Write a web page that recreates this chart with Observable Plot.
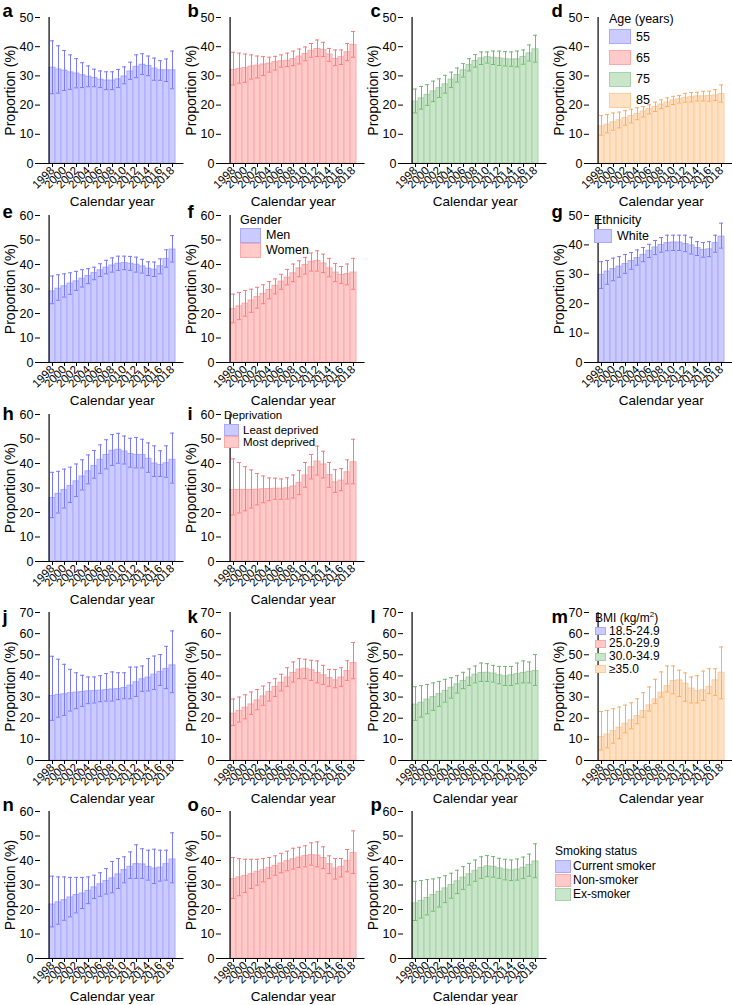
<!DOCTYPE html>
<html><head><meta charset="utf-8">
<script src="https://cdn.jsdelivr.net/npm/d3@7"></script>
<script src="https://cdn.jsdelivr.net/npm/@observablehq/plot@0.6"></script>
<style>
body{margin:0;background:#fff;}
#chart{position:relative;width:732px;height:1005px;overflow:hidden;font-family:"Liberation Sans",Arial,Helvetica,sans-serif;background:#fff;}
.panel{position:absolute;}
.lg{position:absolute;white-space:nowrap;color:#000;font-size:12px;}
.sw{position:absolute;box-sizing:border-box;border:1px solid;}
</style></head>
<body><div id="chart"></div>
<script>
const FONT = '"Liberation Sans", Arial, Helvetica, sans-serif';
const years = [1998,1999,2000,2001,2002,2003,2004,2005,2006,2007,2008,2009,2010,2011,2012,2013,2014,2015,2016,2017,2018];
const evenYears = [1998,2000,2002,2004,2006,2008,2010,2012,2014,2016,2018];
const ticks50 = [0,10,20,30,40,50];
const ticks60 = [0,10,20,30,40,50,60];
const ticks70 = [0,10,20,30,40,50,60,70];

// a: Age 55
const aMean = [32.8,32.2,31.8,31.2,30.8,30.2,29.7,29.3,28.7,28.4,28.4,28.8,29.8,31.5,33.1,33.8,33.4,32.5,31.9,31.9,31.9];
const aHigh = [42.0,40.3,38.7,37.2,35.9,34.5,33.4,32.3,31.7,31.4,31.4,32.2,33.1,34.7,37.2,37.6,36.8,36.1,35.2,35.8,38.5];
const aLow  = [23.9,24.1,25.0,25.4,25.9,26.0,26.3,26.3,26.0,25.3,25.3,26.0,27.3,28.8,29.4,30.5,30.1,28.5,28.5,28.1,25.6];
// b: Age 65
const bMean = [32.0,32.4,32.7,33.2,33.5,33.9,34.2,34.7,35.0,35.2,35.8,36.6,37.5,38.6,39.2,38.9,37.3,35.8,36.4,38.1,40.6];
const bHigh = [38.1,37.8,37.5,37.2,36.8,36.6,36.4,36.7,37.2,37.8,38.5,39.2,39.9,41.1,42.3,41.5,39.4,38.9,38.9,41.1,45.2];
const bLow  = [26.9,27.5,27.8,28.9,29.3,30.1,31.3,32.0,33.0,33.2,33.5,34.1,35.2,36.4,36.6,36.6,35.0,33.5,33.9,35.2,36.4];
// c: Age 75
const cMean = [21.2,22.3,23.5,24.7,25.8,27.1,28.7,30.3,31.9,33.7,35.1,36.0,36.4,36.2,36.0,35.7,35.6,35.7,36.5,37.7,39.1];
const cHigh = [25.5,26.4,27.0,28.2,29.0,30.2,31.3,32.7,34.2,35.9,37.3,38.2,38.2,38.5,38.5,38.3,38.2,38.5,38.9,40.6,43.9];
const cLow  = [17.3,18.6,19.9,21.2,22.6,24.1,26.0,27.9,29.6,31.7,33.0,33.9,34.4,33.9,33.6,33.4,33.3,33.1,34.0,35.1,34.7];
// d: Age 85
const dMean = [12.7,13.3,14.1,14.8,15.6,16.3,17.0,17.8,18.6,19.4,20.2,20.9,21.6,22.0,22.5,22.7,23.0,23.0,23.1,23.3,23.8];
const dHigh = [16.4,16.8,17.3,17.6,18.1,18.6,19.1,19.5,20.1,21.0,21.8,22.5,23.0,23.3,24.0,24.3,24.4,24.7,24.8,25.3,26.9];
const dLow  = [9.7,10.5,11.4,12.2,13.1,13.9,15.0,15.9,17.0,17.8,18.8,19.5,20.2,20.7,21.0,21.1,21.4,21.4,21.3,21.6,21.0];
// e: Men
const eMean = [29.0,30.1,31.1,32.2,33.1,34.2,35.3,36.5,37.6,38.7,39.6,40.3,40.6,40.3,39.9,39.2,38.3,37.9,39.3,42.3,46.1];
const eHigh = [35.3,35.8,36.2,36.6,37.2,37.9,38.3,38.9,40.3,41.7,42.7,43.4,43.4,43.3,43.0,42.1,41.1,41.0,42.3,46.0,51.8];
const eLow  = [24.0,25.4,26.7,27.8,29.4,30.8,32.2,33.8,35.1,36.2,36.9,37.6,37.9,37.6,36.9,36.5,35.5,35.1,36.2,38.9,41.0];
// f: Women
const fMean = [21.8,22.9,24.0,25.3,26.7,28.0,29.6,31.3,33.0,34.6,36.4,38.4,39.8,41.1,41.4,40.4,38.4,36.7,35.7,36.1,36.7];
const fHigh = [27.9,28.6,29.4,29.9,30.7,31.7,33.0,34.1,36.0,38.0,40.2,41.5,42.9,44.7,45.6,44.2,42.5,40.4,39.2,40.2,42.5];
const fLow  = [16.2,17.5,18.9,20.5,22.2,24.0,26.0,28.0,29.9,31.7,33.0,35.0,36.1,37.3,37.3,36.7,35.0,33.0,32.3,31.7,29.9];
// g: White
const gMean = [29.8,30.9,31.8,32.6,33.5,34.5,35.5,36.6,38.0,39.1,40.0,40.6,40.8,40.8,40.3,39.8,38.9,38.3,38.5,40.6,42.8];
const gHigh = [34.3,34.7,35.5,36.0,36.7,37.4,38.3,39.1,40.2,41.5,42.5,43.3,43.3,43.3,43.3,42.6,41.1,40.8,41.1,43.3,47.4];
const gLow  = [25.2,26.6,27.8,29.0,30.3,31.7,33.1,34.3,35.7,36.7,37.5,38.0,38.1,38.1,37.7,36.9,36.4,35.8,36.0,37.5,38.9];
// h: Least deprived
const hMean = [25.9,27.6,29.2,30.8,32.7,34.7,36.8,39.0,41.5,43.5,45.2,45.6,44.9,43.9,43.5,43.5,41.9,40.0,39.4,40.1,41.5];
const hHigh = [36.4,36.8,37.7,38.5,39.8,41.5,43.5,45.3,47.6,49.7,51.8,52.3,51.2,50.3,50.6,49.9,48.4,47.2,45.2,47.2,52.4];
const hLow  = [17.9,19.8,21.8,24.1,26.5,29.2,31.7,34.0,36.0,37.8,39.2,40.1,39.8,38.5,38.2,38.2,36.4,34.7,34.7,34.4,32.0];
// i: Most deprived
const iMean = [29.2,29.2,29.2,29.2,29.3,29.5,29.6,29.7,29.7,29.9,30.6,32.1,35.1,38.5,40.8,39.6,35.3,32.3,33.0,36.4,40.5];
const iHigh = [41.9,40.4,38.7,37.4,35.9,34.9,34.1,34.0,33.7,34.2,35.3,37.2,40.4,43.7,47.1,45.0,40.4,37.5,37.9,41.5,49.9];
const iLow  = [19.0,19.8,20.7,21.8,23.1,24.0,24.8,25.4,25.4,25.5,25.9,27.3,30.3,33.7,35.3,34.1,30.3,28.2,28.9,31.7,31.7];
// j: BMI 18.5-24.9
const jMean = [30.5,31.0,31.3,31.8,32.1,32.4,32.7,32.9,33.0,33.3,33.6,33.8,34.3,35.4,37.0,38.4,39.2,40.6,41.9,43.3,45.0];
const jHigh = [49.3,47.9,45.5,43.1,41.5,40.3,39.5,39.5,40.1,41.1,41.9,41.5,41.5,44.2,44.2,44.7,48.2,49.4,50.1,54.0,61.3];
const jLow  = [19.0,20.5,21.3,23.4,24.5,25.6,26.9,27.2,27.8,28.1,28.1,28.8,29.2,29.2,30.3,32.7,32.9,33.6,35.5,34.0,32.1];
// k: BMI 25.0-29.9
const kMean = [22.1,23.4,25.0,26.5,28.4,30.3,32.4,34.8,36.8,39.2,41.4,43.0,43.4,42.7,41.4,40.3,39.0,37.9,39.2,42.3,46.1];
const kHigh = [29.1,30.0,31.1,32.4,33.6,35.2,36.8,38.7,40.8,43.9,46.6,48.2,47.9,47.4,47.1,45.0,43.1,43.0,43.9,47.2,55.8];
const kLow  = [16.6,18.2,19.7,21.8,24.0,26.1,28.1,30.3,32.9,35.1,37.1,38.7,38.7,37.9,36.7,36.0,35.1,34.4,35.1,37.9,38.7];
// l: BMI 30.0-34.9
const lMean = [26.4,27.3,28.8,30.0,31.4,32.9,34.4,36.0,37.6,39.2,40.6,41.4,41.5,41.1,40.3,39.8,40.3,40.8,41.4,41.9,42.3];
const lHigh = [34.9,35.4,36.0,36.7,37.4,38.4,39.2,40.1,41.7,43.3,44.7,46.1,45.8,45.0,44.5,44.5,44.5,46.1,47.1,46.6,50.1];
const lLow  = [19.0,20.5,22.1,23.7,25.6,27.6,29.5,31.9,34.0,35.5,36.7,37.4,37.4,37.1,36.3,35.5,35.5,36.3,36.7,36.7,35.5];
// m: BMI >=35.0
const mMean = [11.1,12.3,13.9,15.5,17.4,19.0,21.0,23.4,26.1,28.9,32.1,35.2,37.6,37.9,36.3,34.0,32.9,33.2,34.8,37.9,41.5];
const mHigh = [23.2,23.7,24.5,25.3,26.2,27.3,29.2,32.1,34.8,38.4,41.9,44.7,44.7,42.7,41.4,39.5,40.1,42.3,43.4,43.4,53.7];
const mLow  = [5.0,6.0,8.2,10.3,13.1,15.0,17.4,20.5,23.4,26.9,30.0,32.4,31.6,30.3,28.0,27.2,27.2,28.4,31.6,30.8,29.2];
// n: Current smoker
const nMean = [22.0,22.9,23.8,24.9,25.9,26.5,27.6,29.0,30.3,31.6,32.7,34.3,36.1,37.4,38.5,38.4,37.4,36.7,37.1,38.5,40.4];
const nHigh = [33.6,33.3,33.3,33.1,33.1,33.1,33.3,34.0,35.0,36.7,39.6,40.8,41.5,43.5,46.4,44.8,44.2,44.6,44.2,44.2,51.3];
const nLow  = [12.9,14.0,15.6,17.0,18.6,20.4,22.4,24.5,25.4,26.3,26.8,28.6,30.9,32.7,32.7,32.7,32.0,30.6,31.6,32.0,30.9];
// o: Non-smoker
const oMean = [32.4,33.1,33.7,34.4,35.4,36.1,37.0,37.8,38.8,39.7,40.5,41.2,41.8,42.2,42.0,41.0,38.5,36.7,37.4,39.9,43.1];
const oHigh = [41.2,40.8,40.5,40.5,40.5,40.8,41.2,41.9,42.9,43.8,45.0,45.4,46.0,47.2,47.6,45.6,41.9,40.8,40.8,44.5,52.1];
const oLow  = [24.5,25.6,26.9,28.6,29.9,31.3,32.7,34.0,35.0,35.8,36.5,37.1,37.4,38.1,37.4,36.7,34.7,32.4,33.3,35.4,34.7];
// p: Ex-smoker
const pMean = [22.5,23.5,24.7,25.9,27.2,28.6,30.0,31.5,33.0,34.4,35.8,37.0,37.6,37.4,36.8,36.3,36.0,36.3,37.0,38.2,39.6];
const pHigh = [31.5,31.8,32.2,32.5,33.0,33.8,34.8,36.0,37.5,38.8,40.2,41.5,42.0,41.6,40.9,40.5,40.2,40.6,41.4,42.6,46.8];
const pLow  = [15.5,16.5,17.8,19.3,21.0,22.8,24.6,26.5,28.2,30.0,31.5,32.7,33.4,33.2,32.7,32.1,31.8,32.0,32.6,33.6,33.0];

const palettes = {
  blue:   {fill: "#cbcbff", stroke: "#a9a9ff", err: "#7b7bff"},
  red:    {fill: "#ffcaca", stroke: "#ffa8a8", err: "#ff7a7a"},
  green:  {fill: "#cae6ca", stroke: "#a4d3a4", err: "#6ebd6e"},
  orange: {fill: "#ffe1c4", stroke: "#ffcc9c", err: "#ffac5c"}
};

const cols = [40, 221, 403, 589];
const rowTop = [17, 215, 414, 612, 811];
const rowBottom = [163, 362, 561, 760, 958];
const letterX = [2, 187, 370, 551];
const letterBase = [16, 217, 419, 622, 810];

const panels = [
  {letter: "a", row: 0, col: 0, color: "blue",   ticks: ticks50, mean: aMean, high: aHigh, low: aLow},
  {letter: "b", row: 0, col: 1, color: "red",    ticks: ticks50, mean: bMean, high: bHigh, low: bLow},
  {letter: "c", row: 0, col: 2, color: "green",  ticks: ticks50, mean: cMean, high: cHigh, low: cLow},
  {letter: "d", row: 0, col: 3, color: "orange", ticks: ticks50, mean: dMean, high: dHigh, low: dLow},
  {letter: "e", row: 1, col: 0, color: "blue",   ticks: ticks60, mean: eMean, high: eHigh, low: eLow},
  {letter: "f", row: 1, col: 1, color: "red",    ticks: ticks60, mean: fMean, high: fHigh, low: fLow},
  {letter: "g", row: 1, col: 3, color: "blue",   ticks: ticks50, mean: gMean, high: gHigh, low: gLow},
  {letter: "h", row: 2, col: 0, color: "blue",   ticks: ticks60, mean: hMean, high: hHigh, low: hLow},
  {letter: "i", row: 2, col: 1, color: "red",    ticks: ticks60, mean: iMean, high: iHigh, low: iLow},
  {letter: "j", row: 3, col: 0, color: "blue",   ticks: ticks70, mean: jMean, high: jHigh, low: jLow},
  {letter: "k", row: 3, col: 1, color: "red",    ticks: ticks70, mean: kMean, high: kHigh, low: kLow},
  {letter: "l", row: 3, col: 2, color: "green",  ticks: ticks70, mean: lMean, high: lHigh, low: lLow},
  {letter: "m", row: 3, col: 3, color: "orange", ticks: ticks70, mean: mMean, high: mHigh, low: mLow},
  {letter: "n", row: 4, col: 0, color: "blue",   ticks: ticks60, mean: nMean, high: nHigh, low: nLow},
  {letter: "o", row: 4, col: 1, color: "red",    ticks: ticks60, mean: oMean, high: oHigh, low: oLow},
  {letter: "p", row: 4, col: 2, color: "green",  ticks: ticks60, mean: pMean, high: pHigh, low: pLow}
];

const chart = document.getElementById("chart");
const W = 143.5, mL = 40, mR = 4, mT = 17, mB = 50;

function drawPanel(p) {
  const pal = palettes[p.color];
  const H = rowBottom[p.row] - rowTop[p.row];
  const bw = W / years.length;
  const rows = years.map((year, i) => ({year, v: p.mean[i], lo: p.low[i], hi: p.high[i]}));
  const svg = Plot.plot({
    width: mL + W + mR, height: mT + H + mB,
    marginLeft: mL, marginRight: mR, marginTop: mT, marginBottom: mB,
    style: {fontFamily: FONT, fontSize: "12.5px", color: "#000", background: "transparent", overflow: "visible"},
    x: {type: "band", domain: years, padding: 0},
    y: {domain: [0, p.ticks[p.ticks.length - 1]]},
    marks: [
      Plot.barY(rows, {x: "year", y: "v", fill: pal.fill, stroke: pal.stroke, strokeWidth: 1}),
      Plot.ruleX(rows, {x: "year", y1: "lo", y2: "hi", stroke: pal.err, strokeWidth: 1}),
      Plot.tickY(rows, {x: "year", y: "hi", stroke: pal.err, strokeWidth: 1, insetLeft: 1, insetRight: 1}),
      Plot.tickY(rows, {x: "year", y: "lo", stroke: pal.err, strokeWidth: 1, insetLeft: 1, insetRight: 1}),
      Plot.ruleY([0], {stroke: "#000", strokeWidth: 1.2}),
      Plot.ruleX([years[0]], {dx: -bw / 2, stroke: "#000", strokeWidth: 1.2}),
      Plot.axisY({ticks: p.ticks, tickSize: 5, tickPadding: 2, label: null}),
      Plot.axisX({ticks: evenYears, tickFormat: (d) => String(d), tickSize: 4, tickPadding: 1, tickRotate: -45, label: null, fontSize: 11.5}),
      Plot.text(["Proportion (%)"], {frameAnchor: "left", rotate: -90, dx: -30, fontSize: 14, textAnchor: "middle", lineAnchor: "middle"}),
      Plot.text(["Calendar year"], {frameAnchor: "bottom", dy: 42, fontSize: 13.5, textAnchor: "middle", lineAnchor: "bottom"}),
      Plot.text([p.letter], {frameAnchor: "top-left", dx: letterX[p.col] - cols[p.col], dy: letterBase[p.row] - rowTop[p.row],
        fontSize: 18.5, fontWeight: "bold", textAnchor: "start", lineAnchor: "bottom"})
    ]
  });
  svg.classList.add("panel");
  svg.style.left = (cols[p.col] - mL) + "px";
  svg.style.top = (rowTop[p.row] - mT) + "px";
  chart.appendChild(svg);
}
panels.forEach(drawPanel);

function legend({x, tcy, titleHTML, labels, colors, r0, pitch, sw, sh, textX, fs}) {
  const lh = Math.min(16, pitch);
  const t = document.createElement("div");
  t.className = "lg";
  t.style.left = x + "px"; t.style.top = (tcy - 8) + "px";
  t.style.lineHeight = "16px"; t.style.fontSize = fs + "px";
  t.innerHTML = titleHTML;
  chart.appendChild(t);
  labels.forEach((lab, i) => {
    const cy = r0 + i * pitch;
    const s = document.createElement("div");
    s.className = "sw";
    s.style.left = x + "px"; s.style.top = (cy - sh / 2) + "px";
    s.style.width = sw + "px"; s.style.height = sh + "px";
    s.style.background = palettes[colors[i]].fill;
    s.style.borderColor = palettes[colors[i]].stroke;
    chart.appendChild(s);
    const l = document.createElement("div");
    l.className = "lg";
    l.style.left = textX + "px"; l.style.top = (cy - lh / 2) + "px";
    l.style.lineHeight = lh + "px"; l.style.fontSize = fs + "px";
    l.textContent = lab;
    chart.appendChild(l);
  });
}

const ageLabels = ["55", "65", "75", "85"];
const genderLabels = ["Men", "Women"];
const ethnicityLabels = ["White"];
const deprivationLabels = ["Least deprived", "Most deprived"];
const bmiLabels = ["18.5-24.9", "25.0-29.9", "30.0-34.9", "≥35.0"];
const smokingLabels = ["Current smoker", "Non-smoker", "Ex-smoker"];

legend({x: 609, tcy: 18.5, titleHTML: "Age (years)", labels: ageLabels, colors: ["blue","red","green","orange"], r0: 36.5, pitch: 21.3, sw: 22, sh: 15, textX: 636, fs: 12.5});
legend({x: 240, tcy: 220, titleHTML: "Gender", labels: genderLabels, colors: ["blue","red"], r0: 235.5, pitch: 15, sw: 21, sh: 15, textX: 266, fs: 12.5});
legend({x: 594, tcy: 220, titleHTML: "Ethnicity", labels: ethnicityLabels, colors: ["blue"], r0: 236, pitch: 15, sw: 18, sh: 14, textX: 617, fs: 12.5});
legend({x: 224, tcy: 414.5, titleHTML: "Deprivation", labels: deprivationLabels, colors: ["blue","red"], r0: 430, pitch: 12, sw: 15, sh: 11.5, textX: 243, fs: 11.5});
legend({x: 595, tcy: 615, titleHTML: "BMI (kg/m<sup style=\"font-size:8px;vertical-align:5px\">2</sup>)", labels: bmiLabels, colors: ["blue","red","green","orange"], r0: 631, pitch: 12.8, sw: 11, sh: 8, textX: 609, fs: 12});
legend({x: 555, tcy: 851, titleHTML: "Smoking status", labels: smokingLabels, colors: ["blue","red","green"], r0: 866, pitch: 14, sw: 16, sh: 13, textX: 573, fs: 12});
</script>
</body></html>
